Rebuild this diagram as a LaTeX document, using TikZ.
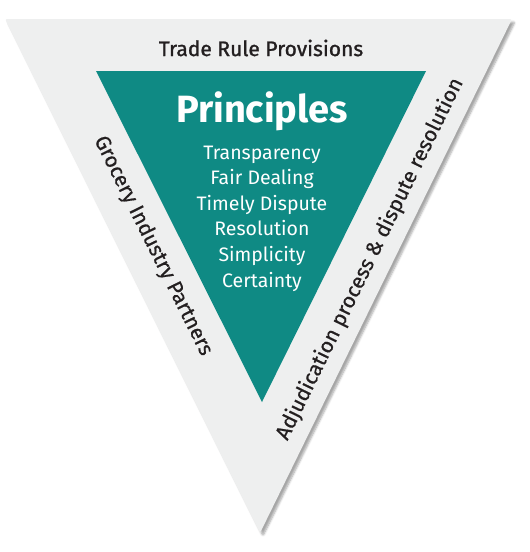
\documentclass[tikz,border=0pt]{standalone}
\usepackage{fontspec}
\setmainfont{Fira Sans}
\usetikzlibrary{shadows.blur}
\definecolor{outergray}{HTML}{EEEFEF}
\definecolor{teal}{HTML}{0F8A84}
\definecolor{txt}{HTML}{231F20}
\begin{document}
\begin{tikzpicture}[x=1pt,y=-1pt,
  sidelabel/.style={font=\fontsize{21}{24}\selectfont\addfontfeatures{FakeBold=0.6}, text=txt, inner sep=0pt},
  listtext/.style={font=\fontsize{19.5}{25.6}\selectfont, text=white, align=center, inner sep=0pt}]
\useasboundingbox (0,0) rectangle (530,552);
% outer triangle
\path[fill=outergray, rounded corners=2pt, blur shadow={shadow xshift=3pt, shadow yshift=-3pt, shadow blur steps=6, shadow opacity=35}]
  (5,19) -- (512,19) -- (260,533) -- cycle;
% inner triangle
\fill[teal] (96,71) -- (426,71) -- (262,402) -- cycle;
% labels
\node[sidelabel, font=\fontsize{21}{24}\selectfont\addfontfeatures{FakeBold=1.2}] (top) at (261,48) {Trade Rule Provisions};
\node[text=white, inner sep=0pt, font=\fontsize{38}{40}\bfseries] (title) at (262,111) {Principles};
\node[listtext, anchor=north] (list) at (262,145.5) {Transparency\\Fair Dealing\\Timely Dispute\\Resolution\\Simplicity\\Certainty};
\node[sidelabel, rotate=-63.6] (left) at (153,246) {Grocery Industry Partners};
\node[sidelabel, rotate=63.9] (right) at (370,259) {Adjudication process \& dispute resolution};
\end{tikzpicture}
\end{document}
